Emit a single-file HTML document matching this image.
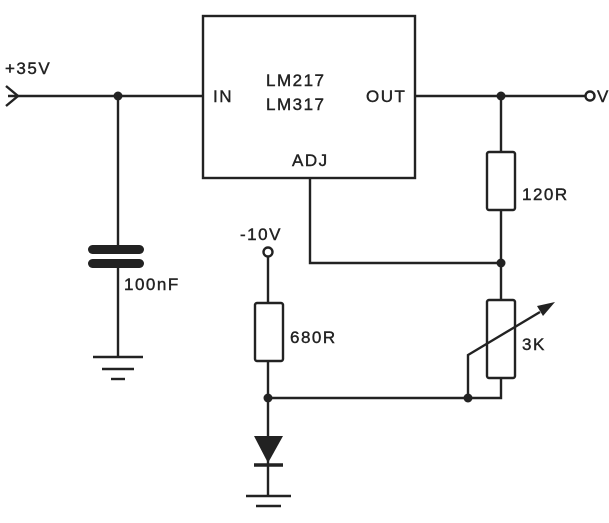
<!DOCTYPE html>
<html><head><style>
body{margin:0;background:#fff}
svg text{font-family:"Liberation Sans",sans-serif;fill:#222;font-size:17px;letter-spacing:1.5px;stroke:#222;stroke-width:0.4}
</style></head><body>
<svg width="609" height="518" viewBox="0 0 609 518" xmlns="http://www.w3.org/2000/svg">
<g stroke="#222" stroke-width="2.4" fill="none">
<rect x="203" y="16" width="212" height="162"/>
<path d="M6 86 L18 96 L6 106"/>
<line x1="8" y1="96" x2="203" y2="96"/>
<line x1="415" y1="96" x2="585" y2="96"/>
<circle cx="590" cy="96" r="4.5"/>
<line x1="118" y1="96" x2="118" y2="251"/>
<line x1="118" y1="264" x2="118" y2="357"/>
<line x1="93" y1="357" x2="143" y2="357"/>
<line x1="102" y1="369" x2="134" y2="369"/>
<line x1="111" y1="379" x2="125" y2="379"/>
<line x1="501" y1="96" x2="501" y2="152"/>
<rect x="487" y="152" width="28" height="58" rx="2"/>
<line x1="501" y1="210" x2="501" y2="300"/>
<polyline points="310,178 310,263 501,263"/>
<rect x="487" y="300" width="28" height="78" rx="2"/>
<polyline points="501,378 501,398 268,398"/>
<polyline points="468,398 468,355 540,312"/>
<circle cx="268" cy="252" r="4.5"/>
<line x1="268" y1="257" x2="268" y2="303"/>
<rect x="255" y="303" width="28" height="58" rx="2"/>
<line x1="268" y1="361" x2="268" y2="496"/>
<line x1="254" y1="465" x2="283" y2="465" stroke-width="3.5"/>
<line x1="246" y1="496" x2="291" y2="496"/>
<line x1="256" y1="506" x2="281" y2="506"/>
</g>
<g fill="#222">
<rect x="88" y="245" width="56" height="9" rx="4.5"/>
<rect x="88" y="259" width="56" height="9" rx="4.5"/>
<polygon points="254,436 283,436 268,463"/>
<polygon points="555,302 537,306 543,316"/>
<circle cx="118" cy="96" r="4.5"/>
<circle cx="501" cy="96" r="4.5"/>
<circle cx="501" cy="263" r="4.5"/>
<circle cx="268" cy="398" r="4.5"/>
<circle cx="468" cy="398" r="4.5"/>
</g>
<text x="5" y="74">+35V</text>
<text x="213" y="102">IN</text>
<text x="266" y="86">LM217</text>
<text x="266" y="110">LM317</text>
<text x="366" y="102">OUT</text>
<text x="292" y="166">ADJ</text>
<text x="597" y="102">V</text>
<text x="522" y="200">120R</text>
<text x="240" y="240">-10V</text>
<text x="124" y="290">100nF</text>
<text x="290" y="343">680R</text>
<text x="522" y="350">3K</text>
</svg>
</body></html>
